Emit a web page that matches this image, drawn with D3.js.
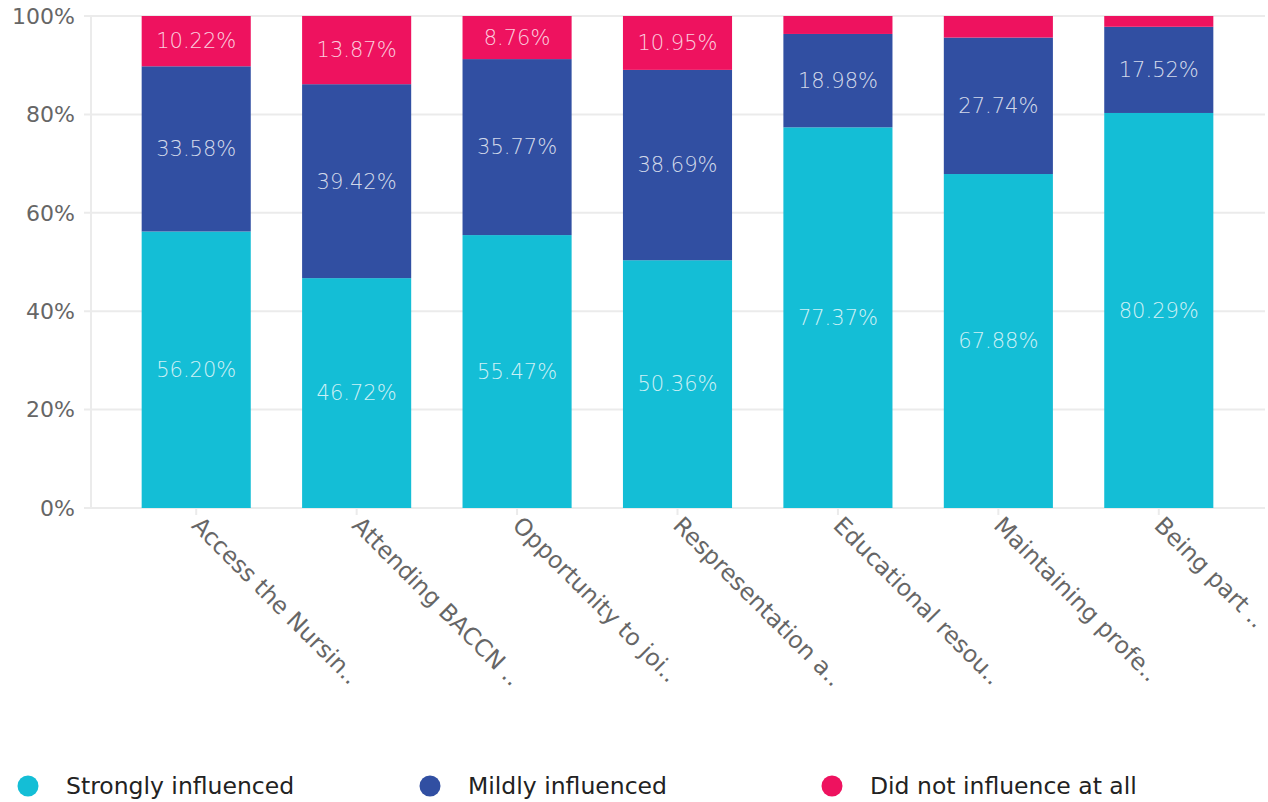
<!DOCTYPE html>
<html>
<head>
<meta charset="utf-8">
<script src="https://cdn.jsdelivr.net/npm/d3@7"></script>
<style>
  body { margin: 0; background: #fff; font-family: "DejaVu Sans", sans-serif; }
</style>
</head>
<body>
<svg id="chart" width="1268" height="802"></svg>
<script>
var categories = ["Access the Nursin..", "Attending BACCN ..", "Opportunity to joi..", "Respresentation a..",
                  "Educational resou..", "Maintaining profe..", "Being part .."];
var strongly = [56.20, 46.72, 55.47, 50.36, 77.37, 67.88, 80.29];
var mildly = [33.58, 39.42, 35.77, 38.69, 18.98, 27.74, 17.52];
var notAtAll = [10.22, 13.87, 8.76, 10.95, 3.65, 4.38, 2.19];
var seriesNames = ["Strongly influenced", "Mildly influenced", "Did not influence at all"];
var yTicks = [0, 20, 40, 60, 80, 100];

var colors = ["#14bed6", "#314fa2", "#ee125f"];

var svg = d3.select("#chart");

var rows = categories.map(function(c, i) {
  return { cat: c, s0: strongly[i], s1: mildly[i], s2: notAtAll[i] };
});
var stack = d3.stack().keys(["s0", "s1", "s2"]);
var layers = stack(rows);

var x = d3.scaleBand().domain(categories).range([116, 1239]).paddingInner(0.32).paddingOuter(0.16);
var y = d3.scaleLinear().domain([0, 100]).range([508, 16]);

// gridlines
svg.append("g").selectAll("line")
  .data(yTicks)
  .enter().append("line")
    .attr("x1", 84).attr("x2", 1265)
    .attr("y1", function(d) { return y(d); })
    .attr("y2", function(d) { return y(d); })
    .attr("stroke", "#ebebeb").attr("stroke-width", 2);

// left axis line
svg.append("line")
  .attr("x1", 91).attr("x2", 91).attr("y1", 16).attr("y2", 509)
  .attr("stroke", "#ebebeb").attr("stroke-width", 2);

// y labels
svg.append("g").selectAll("text")
  .data(yTicks)
  .enter().append("text")
    .attr("x", 75)
    .attr("y", function(d) { return y(d); })
    .attr("dy", "0.35em")
    .attr("text-anchor", "end")
    .attr("fill", "#666")
    .style("font-size", "22px")
    .text(function(d) { return d + "%"; });

// bars
var g = svg.append("g");
layers.forEach(function(layer, li) {
  g.append("g").selectAll("rect")
    .data(layer)
    .enter().append("rect")
      .attr("x", function(d) { return x(d.data.cat); })
      .attr("width", x.bandwidth())
      .attr("y", function(d) { return y(d[1]); })
      .attr("height", function(d) { return y(d[0]) - y(d[1]); })
      .attr("fill", colors[li]);

  g.append("g").selectAll("text")
    .data(layer.filter(function(d) { return d[1] - d[0] > 5; }))
    .enter().append("text")
      .attr("x", function(d) { return x(d.data.cat) + x.bandwidth() / 2; })
      .attr("y", function(d) { return y((d[0] + d[1]) / 2); })
      .attr("dy", "0.35em")
      .attr("text-anchor", "middle")
      .attr("fill", "rgba(255,255,255,0.8)")
      .style("font-size", "21px")
      .style("font-weight", "200")
      .text(function(d) { return (d[1] - d[0]).toFixed(2) + "%"; });
});

// x ticks and labels
var xg = svg.append("g");
xg.selectAll("line")
  .data(categories)
  .enter().append("line")
    .attr("x1", function(d) { return x(d) + x.bandwidth() / 2; })
    .attr("x2", function(d) { return x(d) + x.bandwidth() / 2; })
    .attr("y1", 509).attr("y2", 515)
    .attr("stroke", "#ebebeb").attr("stroke-width", 2);

xg.selectAll("text")
  .data(categories)
  .enter().append("text")
    .attr("transform", function(d) {
      return "translate(" + (x(d) + x.bandwidth() / 2) + ",521) rotate(45)";
    })
    .attr("dy", "0.35em")
    .attr("text-anchor", "start")
    .attr("fill", "#666")
    .style("font-size", "23.5px")
    .text(function(d) { return d; });

// legend
var legend = svg.append("g").selectAll("g")
  .data(seriesNames)
  .enter().append("g")
    .attr("transform", function(d, i) { return "translate(" + (28 + i * 402) + ",786)"; });
legend.append("circle").attr("r", 10.5).attr("fill", function(d, i) { return colors[i]; });
legend.append("text")
  .attr("x", 38).attr("dy", "0.35em")
  .attr("fill", "#222")
  .style("font-size", "23.5px")
  .text(function(d) { return d; });
</script>
</body>
</html>
